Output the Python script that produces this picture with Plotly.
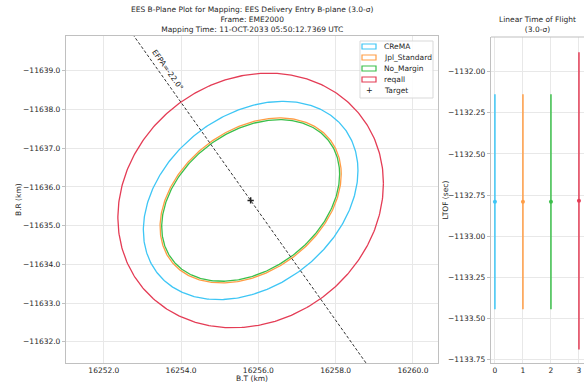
import numpy as np
import plotly.graph_objects as go

W, H = 584, 383

# ---------------- data ----------------
names = ["CReMA", "Jpl_Standard", "No_Margin", "reqall"]
colors = ["#3ec6f5", "#ff9d45", "#3bbf4a", "#e43c55"]
# 3-sigma ellipse parameters in B-plane (km)
target_bt = 16255.80
target_br = -11635.65
sig_bt = [2.778, 2.345, 2.303, 3.437]
sig_br = [2.562, 2.132, 2.088, 3.289]
rho = [-0.30, -0.32, -0.325, -0.134]
# EFPA line: slope dBT/dBR through target
efpa_label = "EFPA=-22.0°"
efpa_slope = 0.711
efpa_br_span = [-11641.0, -11630.0]

# Linear time of flight (sec)
ltof_idx = [0, 1, 2, 3]
ltof_center = [-1132.79, -1132.79, -1132.79, -1132.785]
ltof_err = [0.653, 0.653, 0.653, 0.903]

xticks_main = [16252.0, 16254.0, 16256.0, 16258.0, 16260.0]
yticks_main = [-11639.0, -11638.0, -11637.0, -11636.0, -11635.0, -11634.0, -11633.0, -11632.0]
yticks_ltof = [-1132.00, -1132.25, -1132.50, -1132.75, -1133.00, -1133.25, -1133.50, -1133.75]

FONT = "DejaVu Sans"
TXT = "#262626"
GRID = "#e8e8e8"
SPINE = "#c0c0c0"

def px(x):
    return x / W

def py(y):
    return (H - y) / H

fig = go.Figure()

t = np.linspace(0, 2 * np.pi, 400)
for n, c, sx, sy, r in zip(names, colors, sig_bt, sig_br, rho):
    xs = target_bt + sx * np.cos(t)
    ys = target_br + sy * (r * np.cos(t) + np.sqrt(1 - r * r) * np.sin(t))
    fig.add_trace(go.Scatter(x=xs, y=ys, mode="lines", name=n,
                             line=dict(color=c, width=1.3),
                             showlegend=False, xaxis="x", yaxis="y"))

# EFPA line
br_line = np.array(efpa_br_span)
bt_line = target_bt + efpa_slope * (br_line - target_br)
fig.add_trace(go.Scatter(x=bt_line, y=br_line, mode="lines",
                         line=dict(color="#333333", width=1, dash="3px,2px"),
                         showlegend=False, xaxis="x", yaxis="y"))

# Target
fig.add_trace(go.Scatter(x=[target_bt], y=[target_br], mode="markers", name="Target",
                         marker=dict(symbol="cross-thin", size=4.5, color="#222222",
                                     line=dict(color="#222222", width=1.5)),
                         showlegend=False, xaxis="x", yaxis="y"))

# LTOF error bars
for i, c, m, e in zip(ltof_idx, colors, ltof_center, ltof_err):
    fig.add_trace(go.Scatter(x=[i], y=[m], mode="markers",
                             marker=dict(color=c, size=4),
                             error_y=dict(type="data", array=[e], color=c, thickness=1.5, width=0),
                             showlegend=False, xaxis="x2", yaxis="y2"))

tickfont = dict(family=FONT, size=7.5, color=TXT)
common = dict(showgrid=True, gridcolor=GRID, gridwidth=1, zeroline=False,
              showline=True, linecolor=SPINE, linewidth=1.2,
              tickfont=tickfont)
xt = dict(ticks="")
yt = dict(ticks="outside", ticklen=3, tickcolor=SPINE)

fig.update_layout(
    width=W, height=H,
    margin=dict(l=0, r=0, t=0, b=0),
    paper_bgcolor="white", plot_bgcolor="white",
    showlegend=False,
    font=dict(family=FONT, size=7.5, color=TXT),
    xaxis=dict(domain=[px(66), px(438)], range=[16251.02, 16260.65],
               tickvals=xticks_main, tickformat=".1f", mirror=True,
               anchor="y", **common, **xt),
    yaxis=dict(domain=[py(363), py(36)], range=[-11631.45, -11639.90],
               tickvals=yticks_main, tickformat=".1f", mirror=True,
               anchor="x", **common, **yt),
    xaxis2=dict(domain=[px(491), 1.0], range=[-0.14, 3.18],
                tickvals=ltof_idx, tickformat="d", mirror=False,
                anchor="y2", **common, **xt),
    yaxis2=dict(domain=[py(363), py(37)], range=[-1133.77, -1131.79],
                tickvals=yticks_ltof, tickformat=".2f", mirror=False,
                anchor="x2", **common, **yt),
)

# top border for right panel
fig.add_shape(type="line", xref="paper", yref="paper", x0=px(491), x1=1.0,
              y0=py(37), y1=py(37), line=dict(color=SPINE, width=1.2))

lab = dict(family=FONT, size=7.5, color=TXT)
annotations = [
    dict(text="EES B-Plane Plot for Mapping: EES Delivery Entry B-plane (3.0-σ)<br>Frame: EME2000<br>"
              "Mapping Time: 11-OCT-2033 05:50:12.7369 UTC",
         x=px(252), y=py(36.5), xref="paper", yref="paper", xanchor="center", yanchor="bottom",
         showarrow=False, font=lab),
    dict(text="Linear Time of Flight<br>(3.0-σ)",
         x=px(537.5), y=py(36.5), xref="paper", yref="paper", xanchor="center", yanchor="bottom",
         showarrow=False, font=lab),
    dict(text=efpa_label, x=16253.67, y=-11639.02, xref="x", yref="y",
         textangle=54.6, showarrow=False, font=lab),
    # axis titles
    dict(text="B.T (km)", x=px(252), y=py(378.5), xref="paper", yref="paper",
         xanchor="center", yanchor="middle", showarrow=False, font=lab),
    dict(text="B.R (km)", x=px(19), y=py(200), xref="paper", yref="paper", textangle=-90,
         xanchor="center", yanchor="middle", showarrow=False, font=lab),
    dict(text="LTOF (sec)", x=px(445.5), y=py(200), xref="paper", yref="paper", textangle=-90,
         xanchor="center", yanchor="middle", showarrow=False, font=lab),
]

# custom legend
lx0, lx1, ly0, ly1 = 360, 433, 41, 98
fig.add_shape(type="rect", xref="paper", yref="paper", x0=px(lx0), x1=px(lx1), y0=py(ly1), y1=py(ly0),
              line=dict(color="#d9d9d9", width=1), fillcolor="rgba(255,255,255,0.85)")
row_y = [46.5, 57.5, 68.5, 79.5, 91]
for n, c, yy in zip(names, colors, row_y):
    fig.add_shape(type="rect", xref="paper", yref="paper", x0=px(362), x1=px(376),
                  y0=py(yy + 2.5), y1=py(yy - 2.5), line=dict(color=c, width=1.2),
                  fillcolor="rgba(0,0,0,0)")
    annotations.append(dict(text=n, x=px(382), y=py(yy), xref="paper", yref="paper",
                            xanchor="left", yanchor="middle", showarrow=False, font=lab))
annotations.append(dict(text="Target", x=px(382), y=py(row_y[4]), xref="paper", yref="paper",
                        xanchor="left", yanchor="middle", showarrow=False, font=lab))
annotations.append(dict(text="+", x=px(369), y=py(row_y[4]), xref="paper", yref="paper",
                        xanchor="center", yanchor="middle", showarrow=False,
                        font=dict(family=FONT, size=8, color="#222222")))

fig.update_layout(annotations=annotations)

fig.write_html("out.html", config={"displayModeBar": False},
               post_script="document.body.style.margin='0';document.body.style.padding='0';")
